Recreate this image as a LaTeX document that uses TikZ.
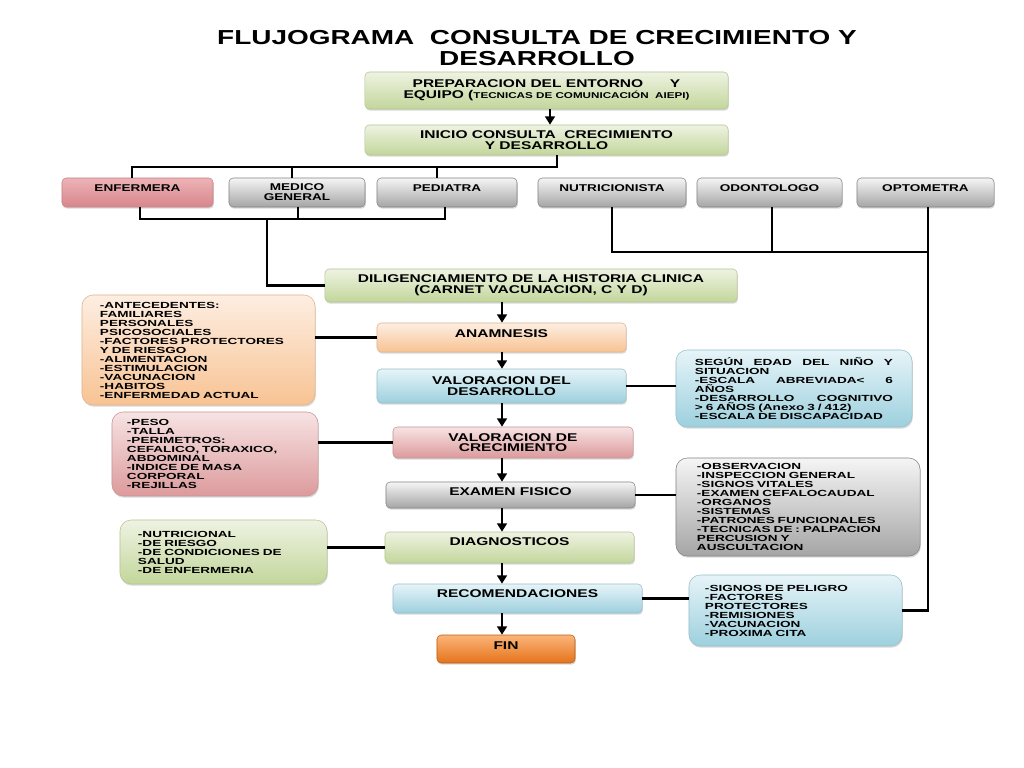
\documentclass[tikz,border=0pt]{standalone}
\usepackage{fontspec}
\setmainfont[FakeStretch=1.38]{Liberation Sans}
\newfontfamily\ladofont[FakeStretch=1.53]{Liberation Sans}
\usepackage{xcolor}
\definecolor{verdeA}{HTML}{EEF3E2}
\definecolor{verdeB}{HTML}{C3D69B}
\definecolor{grisA}{HTML}{F5F5F5}
\definecolor{grisB}{HTML}{A5A5A5}
\definecolor{rosaA}{HTML}{F7E3E3}
\definecolor{rosaB}{HTML}{DC9A9C}
\definecolor{enfA}{HTML}{EDB3B6}
\definecolor{enfB}{HTML}{D7868C}
\definecolor{narA}{HTML}{FDEEE2}
\definecolor{narB}{HTML}{F8C393}
\definecolor{azulA}{HTML}{E6F4F8}
\definecolor{azulB}{HTML}{9DD0DE}
\definecolor{finA}{HTML}{FBB57A}
\definecolor{finB}{HTML}{E5731A}
\usetikzlibrary{positioning}
\usetikzlibrary{arrows.meta}
\usetikzlibrary{shadows}

\tikzset{
    caja/.style={rectangle, rounded corners=3pt, thin, inner sep=1pt, align=center,
        font=\bfseries\fontsize{8}{7.5}\selectfont,
        drop shadow={opacity=.3, shadow xshift=.6pt, shadow yshift=-1.2pt}},
    fila/.style={caja, minimum height=0.725cm, font=\bfseries\fontsize{7}{7}\selectfont},
    alto/.style={text depth=#1},
    lado/.style={rectangle, rounded corners=8pt, thin, inner sep=1pt, align=left,
        font=\ladofont\bfseries\fontsize{6.3}{6.4}\selectfont,
        drop shadow={opacity=.3, shadow xshift=.6pt, shadow yshift=-1.2pt}},
    verde/.style={top color=verdeA, bottom color=verdeB, draw=verdeB!80!gray},
    gris/.style={top color=grisA, bottom color=grisB, draw=grisB!80!black},
    rosa/.style={top color=rosaA, bottom color=rosaB, draw=rosaB!80!gray},
    enf/.style={top color=enfA, bottom color=enfB, draw=enfB!80!gray},
    naranja/.style={top color=narA, bottom color=narB, draw=narB!80!gray},
    azul/.style={top color=azulA, bottom color=azulB, draw=azulB!80!gray},
    final/.style={top color=finA, bottom color=finB, draw=finB!80!black},
    conn/.style={line width=2.1pt, black},
    arr/.style={line width=1.9pt, black, -{Triangle[width=7pt,length=6pt]}}
}

\begin{document}
\begin{tikzpicture}[x=0.025cm, y=-0.025cm]
            \fill[white] (0,0) rectangle (1024,768);
            \useasboundingbox (0,0) rectangle (1024,768);

            \node[align=center, inner sep=0, font=\bfseries\fontsize{14.4}{15}\selectfont] (titulo) at (537,48)
                {FLUJOGRAMA\ \ CONSULTA DE CRECIMIENTO Y\\DESARROLLO};

            % tronco superior
            \node[caja, verde, minimum width=9.075cm, minimum height=0.925cm] (prep) at (546.5,90.5)
                {PREPARACION DEL ENTORNO\hspace{19pt}Y\\EQUIPO ({\fontsize{6}{7}\selectfont TECNICAS DE COMUNICACIÓN\ \ AIEPI)}};
            \node[caja, verde, minimum width=9.075cm, minimum height=0.75cm] (inicio) at (546.5,140)
                {INICIO CONSULTA\ \ CRECIMIENTO\\Y DESARROLLO};

            \node[fila, enf, alto=6.4pt, minimum width=3.775cm] (enfermera) at (137.5,192.5) {ENFERMERA};
            \node[fila, gris, minimum width=3.4cm] (medico) at (297,192.5) {MEDICO\\GENERAL};
            \node[fila, gris, alto=6.4pt, minimum width=3.5cm] (pediatra) at (447,192.5) {PEDIATRA};
            \node[fila, gris, alto=6.4pt, minimum width=3.7cm] (nutri) at (612,192.5) {NUTRICIONISTA};
            \node[fila, gris, alto=6.4pt, minimum width=3.625cm] (odonto) at (769.5,192.5) {ODONTOLOGO};
            \node[fila, gris, alto=6.4pt, minimum width=3.425cm] (opto) at (925.5,192.5) {OPTOMETRA};

            % columna central
            \node[caja, verde, minimum width=10.3cm, minimum height=0.825cm] (dilig) at (531,285.5)
                {DILIGENCIAMIENTO DE LA HISTORIA CLINICA\\(CARNET VACUNACION, C Y D)};
            \node[caja, naranja, alto=5.7pt, minimum width=6.225cm, minimum height=0.725cm] (anam) at (501.5,337.5) {ANAMNESIS};
            \node[caja, azul, minimum width=6.225cm, minimum height=0.85cm] (valdes) at (501.5,386)
                {VALORACION DEL\\DESARROLLO};
            \node[caja, rosa, minimum width=6cm, minimum height=0.775cm] (valcre) at (513,442.5)
                {VALORACION DE\\CRECIMIENTO};
            \node[caja, gris, alto=4.3pt, minimum width=6.225cm, minimum height=0.65cm] (examen) at (510.5,495) {EXAMEN FISICO};
            \node[caja, verde, alto=8.5pt, minimum width=6.225cm, minimum height=0.775cm] (diag) at (509.5,547.5) {DIAGNOSTICOS};
            \node[caja, azul, alto=6.4pt, minimum width=6.225cm, minimum height=0.725cm] (recom) at (517.5,598.5) {RECOMENDACIONES};
            \node[caja, final, alto=4.3pt, minimum width=3.45cm, minimum height=0.7cm] (fin) at (506,649) {FIN};

            % cuadros laterales
            \node[lado, naranja, minimum width=5.825cm, minimum height=2.75cm, text width=4.925cm] (antec) at (198.5,350)
                {-ANTECEDENTES:\\FAMILIARES\\PERSONALES\\PSICOSOCIALES\\-FACTORES PROTECTORES\\Y DE RIESGO\\-ALIMENTACION\\-ESTIMULACION\\-VACUNACION\\-HABITOS\\-ENFERMEDAD ACTUAL};
            \node[lado, azul, minimum width=5.9cm, minimum height=1.925cm, text width=4.95cm] (segun) at (794,388.5)
                {SEGÚN\hfill EDAD\hfill DEL\hfill NIÑO\hfill Y\\SITUACION\\-ESCALA\hfill ABREVIADA<\hfill 6\\AÑOS\\-DESARROLLO\hfill COGNITIVO\\> 6 AÑOS (Anexo 3 / 412)\\-ESCALA DE DISCAPACIDAD};
            \node[lado, rosa, minimum width=5.15cm, minimum height=2.1cm, text width=4.4cm] (peso) at (215,454)
                {-PESO\\-TALLA\\-PERIMETROS:\\CEFALICO, TORAXICO,\\ABDOMINAL\\-INDICE DE MASA\\CORPORAL\\-REJILLAS};
            \node[lado, gris, minimum width=6.1cm, minimum height=2.45cm, text width=5.05cm] (observ) at (798,507)
                {-OBSERVACION\\-INSPECCION GENERAL\\-SIGNOS VITALES\\-EXAMEN CEFALOCAUDAL\\-ORGANOS\\-SISTEMAS\\-PATRONES FUNCIONALES\\-TECNICAS DE : PALPACION\\PERCUSION Y\\AUSCULTACION};
            \node[lado, verde, minimum width=5.175cm, minimum height=1.6cm, text width=4.275cm] (nutric) at (223.5,552)
                {-NUTRICIONAL\\-DE RIESGO\\-DE CONDICIONES DE\\SALUD\\-DE ENFERMERIA};
            \node[lado, azul, minimum width=5.325cm, minimum height=1.775cm, text width=4.525cm] (signos) at (795.5,610.5)
                {-SIGNOS DE PELIGRO\\-FACTORES\\PROTECTORES\\-REMISIONES\\-VACUNACION\\-PROXIMA CITA};

            % conectores
            \coordinate (ejesup) at (550,0);
            \coordinate (eje) at (502,0);
            \draw[arr] (prep.south -| ejesup) -- (inicio.north -| ejesup);

            \coordinate (t1) at (132,167);
            \coordinate (t2) at (292,167);
            \coordinate (t3) at (437,167);
            \coordinate (t4) at (557,167);
            \draw[conn] (inicio.south -| t4) -- (t4) -- (t1) -- (t1 |- enfermera.north);
            \foreach \j/\n in {t2/medico, t3/pediatra}
                \draw[conn] (\j) -- (\j |- \n.north);

            \coordinate (b1) at (140,219);
            \coordinate (b2) at (298,219);
            \coordinate (b3) at (445,219);
            \coordinate (bj) at (267,219);
            \draw[conn] (b1 |- enfermera.south) -- (b1) -- (b3) -- (b3 |- pediatra.south);
            \draw[conn] (b2 |- medico.south) -- (b2);
            \draw[conn] (bj) |- (dilig.west);

            \coordinate (r1) at (612,252);
            \coordinate (r2) at (772,252);
            \coordinate (r3) at (928,252);
            \draw[conn] (r1 |- nutri.south) -- (r1) -- (r3);
            \draw[conn] (r2 |- odonto.south) -- (r2);
            \draw[conn] (r3 |- opto.south) -- (r3 |- signos.east) -- (signos.east);

            \foreach \a/\b in {dilig/anam, anam/valdes, valdes/valcre, valcre/examen, examen/diag, diag/recom, recom/fin}
                \draw[arr] (\a.south -| eje) -- (\b.north -| eje);

            \draw[conn] (antec.east |- anam.west) -- (anam.west);
            \draw[conn] (valdes.east) -- (valdes.east -| segun.west);
            \draw[conn] (peso.east |- valcre.west) -- (valcre.west);
            \draw[conn] (examen.east) -- (examen.east -| observ.west);
            \draw[conn] (nutric.east |- diag.west) -- (diag.west);
            \draw[conn] (recom.east) -- (recom.east -| signos.west);
\end{tikzpicture}
\end{document}
